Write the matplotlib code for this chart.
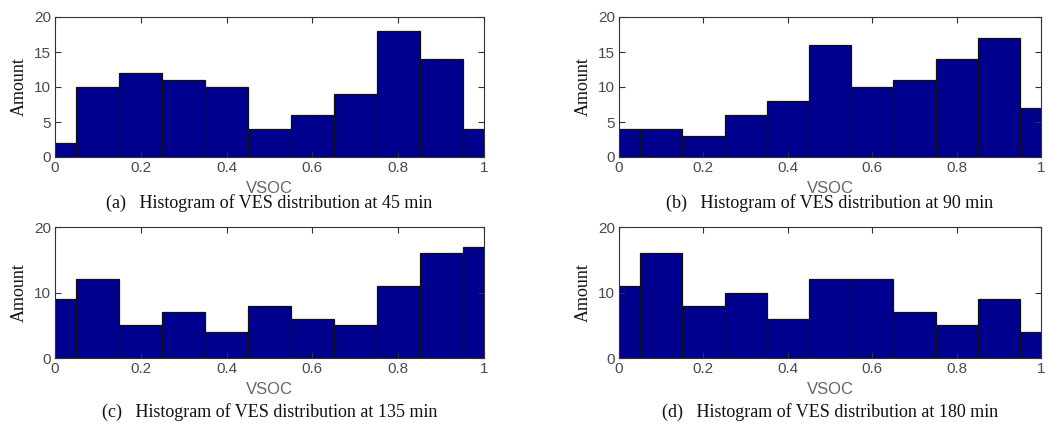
import numpy as np
import matplotlib
matplotlib.use("Agg")
import matplotlib.pyplot as plt

centers = np.round(np.arange(0, 1.01, 0.1), 2)
counts_45 = [2, 10, 12, 11, 10, 4, 6, 9, 18, 14, 4]
counts_90 = [4, 4, 3, 6, 8, 16, 10, 11, 14, 17, 7]
counts_135 = [9, 12, 5, 7, 4, 8, 6, 5, 11, 16, 17]
counts_180 = [11, 16, 8, 10, 6, 12, 12, 7, 5, 9, 4]

captions = [
    "(a)   Histogram of VES distribution at 45 min",
    "(b)   Histogram of VES distribution at 90 min",
    "(c)   Histogram of VES distribution at 135 min",
    "(d)   Histogram of VES distribution at 180 min",
]
xticks = [0, 0.2, 0.4, 0.6, 0.8, 1]
xticklabels = ["0", "0.2", "0.4", "0.6", "0.8", "1"]

W, H = 1048, 423
fig = plt.figure(figsize=(W / 100, H / 100), dpi=100)

# axes boxes in pixels: left, top, right, bottom
boxes = [
    (55, 17, 484, 157),
    (619, 17, 1041, 157),
    (55, 227, 484, 358),
    (619, 227, 1041, 358),
]
cap_offset = [46, 46, 54, 54]
datasets = [counts_45, counts_90, counts_135, counts_180]
yticks_all = [[0, 5, 10, 15, 20], [0, 5, 10, 15, 20], [0, 10, 20], [0, 10, 20]]

for i, (box, counts) in enumerate(zip(boxes, datasets)):
    l, t, r, b = box
    ax = fig.add_axes([l / W, 1 - b / H, (r - l) / W, (b - t) / H])
    ax.bar(centers, counts, width=0.1, color="#00008F", edgecolor="#111111",
           linewidth=0.9)
    ax.set_xlim(0, 1)
    ax.set_ylim(0, 20)
    ax.set_xticks(xticks)
    ax.set_xticklabels(xticklabels)
    ax.set_yticks(yticks_all[i])
    ax.tick_params(direction="in", top=True, right=True, length=4,
                   width=0.8, colors="#333333", labelsize=11, pad=3)
    for lab in ax.get_xticklabels() + ax.get_yticklabels():
        lab.set_fontfamily("Liberation Sans")
        lab.set_color("#4a4a4a")
    for s in ax.spines.values():
        s.set_color("#333333")
        s.set_linewidth(0.8)
    ax.set_xlabel("VSOC", fontfamily="Liberation Sans", fontsize=12,
                  color="#666666", labelpad=4)
    ax.set_ylabel("Amount", fontfamily="Liberation Serif", fontsize=13,
                  color="#111111", labelpad=4)
    fig.text((l + r) / 2 / W, 1 - (b + cap_offset[i]) / H, captions[i],
             fontfamily="Liberation Serif", fontsize=13, color="#111111",
             ha="center", va="center")

fig.savefig("out.png", dpi=100)
